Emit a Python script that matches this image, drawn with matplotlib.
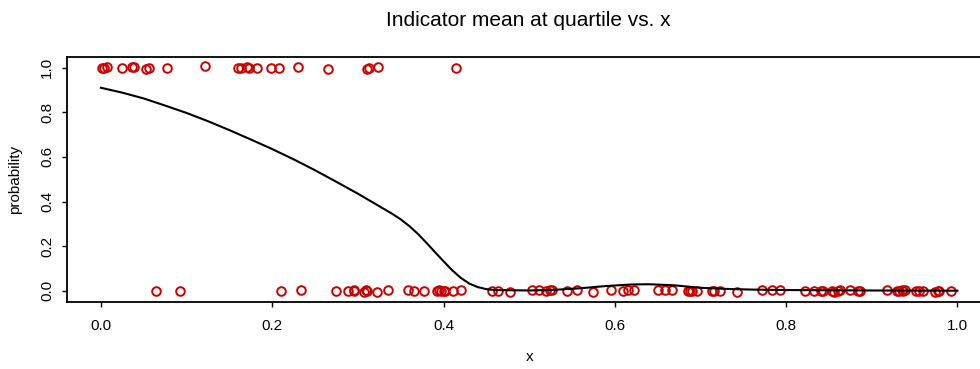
import matplotlib
matplotlib.use("Agg")
import matplotlib.pyplot as plt

plt.rcParams['font.family'] = ['Liberation Sans', 'DejaVu Sans']

# Points at indicator = 1
top_x = [0.001, 0.004, 0.007, 0.025, 0.036, 0.039, 0.053, 0.056, 0.077, 0.121,
         0.160, 0.163, 0.170, 0.173, 0.182, 0.198, 0.208, 0.230, 0.265, 0.311,
         0.313, 0.324, 0.415]
top_y = [1.000, 0.997, 1.003, 0.998, 1.003, 1.004, 0.996, 0.998, 1.000, 1.006,
         0.998, 1.000, 1.003, 1.000, 0.999, 1.000, 0.997, 1.004, 0.994, 0.996,
         0.999, 1.003, 0.999]

# Points at indicator = 0
bot_x = [0.064, 0.092, 0.210, 0.234, 0.275, 0.288, 0.295, 0.296, 0.307, 0.309,
         0.311, 0.322, 0.335, 0.358, 0.365, 0.377, 0.392, 0.395, 0.397, 0.400,
         0.402, 0.411, 0.420, 0.456, 0.464, 0.478, 0.503, 0.511, 0.520, 0.524,
         0.527, 0.544, 0.556, 0.574, 0.596, 0.610, 0.615, 0.622, 0.650, 0.659,
         0.667, 0.686, 0.688, 0.690, 0.696, 0.713, 0.716, 0.723, 0.743, 0.772,
         0.784, 0.793, 0.822, 0.832, 0.841, 0.843, 0.853, 0.856, 0.860, 0.863,
         0.875, 0.884, 0.886, 0.918, 0.929, 0.932, 0.935, 0.937, 0.939, 0.952,
         0.955, 0.960, 0.974, 0.977, 0.979, 0.993]
bot_y = [-0.003, -0.003, -0.003, 0.004, -0.003, -0.002, 0.000, 0.001, -0.004, 0.002,
         0.000, -0.004, 0.005, 0.001, -0.002, -0.002, 0.000, 0.001, -0.002, -0.003,
         0.000, -0.003, 0.004, -0.003, -0.003, -0.004, 0.002, 0.003, -0.002, 0.002,
         0.003, -0.003, 0.001, -0.005, 0.003, -0.001, 0.002, 0.002, 0.004, 0.001,
         0.001, -0.003, -0.002, 0.000, -0.002, -0.003, -0.002, -0.002, -0.004, 0.004,
         0.001, 0.001, -0.003, -0.002, 0.000, -0.003, -0.003, -0.005, 0.000, 0.002,
         0.003, -0.001, -0.002, 0.003, 0.000, -0.001, 0.002, 0.000, 0.001, -0.001,
         0.000, -0.003, -0.004, -0.002, -0.002, -0.002]

# Smoothed indicator mean curve
curve_x = [0.0, 0.025, 0.05, 0.075, 0.10, 0.125, 0.15, 0.175, 0.20, 0.225, 0.25,
           0.275, 0.30, 0.32, 0.34, 0.35, 0.36, 0.37, 0.38, 0.39, 0.40, 0.41,
           0.42, 0.43, 0.44, 0.45, 0.46, 0.50, 0.53, 0.56, 0.59, 0.62, 0.64,
           0.67, 0.70, 0.73, 0.76, 0.80, 0.90, 1.00]
curve_y = [0.91, 0.888, 0.862, 0.83, 0.797, 0.76, 0.72, 0.678, 0.635, 0.589, 0.54,
           0.488, 0.435, 0.39, 0.345, 0.32, 0.29, 0.255, 0.215, 0.173, 0.132, 0.092,
           0.058, 0.032, 0.016, 0.007, 0.003, 0.001, 0.004, 0.011, 0.021, 0.028, 0.029,
           0.024, 0.013, 0.008, 0.005, 0.003, 0.001, 0.0]

xticks = [0.0, 0.2, 0.4, 0.6, 0.8, 1.0]
yticks = [0.0, 0.2, 0.4, 0.6, 0.8, 1.0]

fig = plt.figure(figsize=(9.8, 3.69), dpi=100)
ax = fig.add_axes([67.3 / 980, 1 - 301.7 / 369, (991 - 67.3) / 980, (301.7 - 57.3) / 369])

red = '#CD0000'
ax.plot(top_x, top_y, 'o', mfc='none', mec=red, ms=6.2, mew=1.4)
ax.plot(bot_x, bot_y, 'o', mfc='none', mec=red, ms=6.2, mew=1.4)
ax.plot(curve_x, curve_y, '-', color='black', lw=1.5)

ax.set_xlim(-0.0393, 1.0392)
ax.set_ylim(-0.0493, 1.0466)
ax.set_xticks(xticks)
ax.set_xticklabels([f"{v:.1f}" for v in xticks])
ax.set_yticks(yticks)
ax.set_yticklabels([f"{v:.1f}" for v in yticks], rotation=90, va='center')
ax.tick_params(labelsize=11, length=3.5, width=1)
ax.tick_params(axis='x', pad=9)
ax.tick_params(axis='y', pad=6)
for s in ax.spines.values():
    s.set_linewidth(1.3)

ax.set_xlabel('x', fontsize=11, labelpad=12)
ax.set_ylabel('probability', fontsize=11, labelpad=13)
fig.text(528 / 980, 1 - 20 / 369, 'Indicator mean at quartile vs. x',
         ha='center', va='center', fontsize=15)

fig.savefig('out.png', dpi=100)
